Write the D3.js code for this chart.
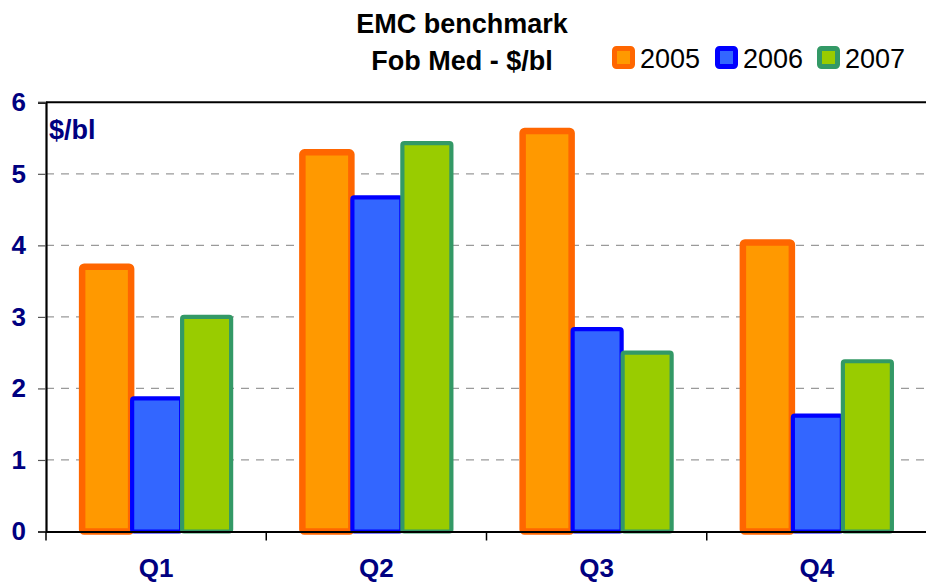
<!DOCTYPE html>
<html>
<head>
<meta charset="utf-8">
<script src="https://cdn.jsdelivr.net/npm/d3@7"></script>
<style>
  html, body { margin: 0; padding: 0; background: #fff; }
  svg { display: block; font-family: "Liberation Sans", Arial, sans-serif; }
</style>
</head>
<body>
<svg id="chart" width="926" height="583"></svg>
<script>
const categories = ["Q1", "Q2", "Q3", "Q4"];
const seriesNames = ["2005", "2006", "2007"];
const values2005 = [3.70, 5.30, 5.60, 4.04];
const values2006 = [1.86, 4.67, 2.83, 1.62];
const values2007 = [3.00, 5.43, 2.50, 2.38];
const yTicks = [0, 1, 2, 3, 4, 5, 6];
const titleLines = ["EMC benchmark", "Fob Med - $/bl"];
const unitLabel = "$/bl";

const seriesValues = [values2005, values2006, values2007];
const fills = ["#FF9900", "#3366FF", "#99CC00"];
const strokes = ["#FF6600", "#0000FF", "#339966"];
const strokeW = [6.5, 4.2, 4.2];

const svg = d3.select("#chart");
const plot = { left: 46, right: 927, top: 102.3, bottom: 531.5 };

const x = d3.scaleBand().domain(categories).range([plot.left, plot.right]).padding(0);
const groupW = 150;
const xs = d3.scaleBand().domain(seriesNames).range([0, groupW]).padding(0);
const y = d3.scaleLinear().domain([0, 6]).range([plot.bottom, plot.top]);

// gridlines
svg.append("g").selectAll("line")
  .data(yTicks.filter(d => d > 0 && d < 6))
  .join("line")
  .attr("x1", plot.left).attr("x2", plot.right)
  .attr("y1", d => y(d)).attr("y2", d => y(d))
  .attr("stroke", "#9a9a9a").attr("stroke-width", 1.3)
  .attr("stroke-dasharray", "8,7");

// top border
svg.append("line")
  .attr("x1", plot.left).attr("x2", plot.right)
  .attr("y1", y(6)).attr("y2", y(6))
  .attr("stroke", "#000").attr("stroke-width", 2);

// bars
const bars = [];
seriesNames.forEach((s, si) => {
  categories.forEach((c, ci) => {
    bars.push({ s, si, c, v: seriesValues[si][ci] });
  });
});
svg.append("g").selectAll("rect")
  .data(bars)
  .join("rect")
  .attr("x", d => x(d.c) + (x.bandwidth() - groupW) / 2 + xs(d.s) + 1)
  .attr("width", xs.bandwidth() - 1)
  .attr("y", d => y(d.v))
  .attr("height", d => y(0) - y(d.v))
  .attr("rx", 2).attr("ry", 2)
  .attr("fill", d => fills[d.si])
  .attr("stroke", d => strokes[d.si])
  .attr("stroke-width", d => strokeW[d.si]);

// y axis
const yAxis = d3.axisLeft(y).tickValues(yTicks).tickSize(8).tickPadding(12).tickFormat(d3.format("d"));
const gy = svg.append("g").attr("transform", `translate(${plot.left},0)`).call(yAxis);
gy.select(".domain").attr("stroke", "#000").attr("stroke-width", 2.2);
gy.selectAll(".tick line").attr("stroke", "#555").attr("stroke-width", 1.2);
gy.selectAll(".tick text")
  .attr("fill", "#000080").attr("font-size", 26).attr("font-weight", "bold")
  .attr("font-family", "Liberation Sans, Arial, sans-serif");

// x axis
const xAxis = d3.axisBottom(x).tickSize(0).tickPadding(27);
const gx = svg.append("g").attr("transform", `translate(0,${plot.bottom})`).call(xAxis);
gx.select(".domain").attr("stroke", "#000").attr("stroke-width", 2.2);
gx.selectAll(".tick text")
  .attr("fill", "#000080").attr("font-size", 26).attr("font-weight", "bold")
  .attr("font-family", "Liberation Sans, Arial, sans-serif");
// category boundary ticks
const bounds = categories.map(c => x(c));
svg.append("g").selectAll("line").data(bounds).join("line")
  .attr("x1", d => d).attr("x2", d => d)
  .attr("y1", plot.bottom).attr("y2", plot.bottom + 9)
  .attr("stroke", "#000").attr("stroke-width", 1.5);

// unit label
svg.append("text")
  .attr("x", 49).attr("y", 138.5)
  .attr("fill", "#000080").attr("font-size", 27).attr("font-weight", "bold")
  .text(unitLabel);

// title
svg.append("g").selectAll("text").data(titleLines).join("text")
  .attr("x", 462).attr("y", (d, i) => 33 + i * 37)
  .attr("text-anchor", "middle")
  .attr("font-size", 27).attr("font-weight", "bold").attr("fill", "#000")
  .text(d => d);

// legend
const legendX = [612, 715, 817];
const lg = svg.append("g").selectAll("g").data(seriesNames).join("g")
  .attr("transform", (d, i) => `translate(${legendX[i]},46)`);
lg.append("rect")
  .attr("x", 2.5).attr("y", 2.5).attr("width", 18).attr("height", 18)
  .attr("rx", 2)
  .attr("fill", (d, i) => fills[i])
  .attr("stroke", (d, i) => strokes[i])
  .attr("stroke-width", 5);
lg.append("text")
  .attr("x", 28).attr("y", 22)
  .attr("font-size", 27).attr("fill", "#000")
  .text(d => d);
</script>
</body>
</html>
